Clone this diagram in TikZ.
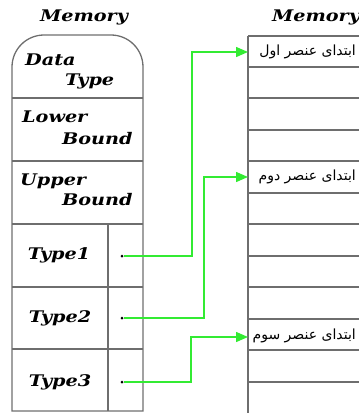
\documentclass[tikz,border=0pt]{standalone}
\usepackage{fontspec}
\usetikzlibrary{arrows.meta}
\newfontfamily\enfont[FakeStretch=1.2]{DejaVu Serif}
\newfontfamily\arabicfont[Script=Arabic]{DejaVu Sans}
\TeXXeTstate=1
\definecolor{linegray}{RGB}{110,110,110}
\definecolor{arrowgreen}{RGB}{50,235,50}
\begin{document}
\begin{tikzpicture}[x=1pt,y=-1pt,
  cell/.style={draw=linegray,line width=1.3pt},
  lbl/.style={font=\enfont\bfseries\itshape\fontsize{16}{16}\selectfont,inner sep=0pt},
  fa/.style={font=\arabicfont\fontsize{14}{14}\selectfont,inner sep=0pt},
  conn/.style={draw=arrowgreen,line width=1.4pt,-{Triangle[length=12pt,width=10pt]}},
  dot/.style={circle,fill=black,inner sep=0pt,minimum size=3pt}]
\useasboundingbox (0,0) rectangle (359,413);
% left block
\draw[cell] (12,411) -- (12,67) arc[start angle=180,end angle=270,radius=32] -- (111,35) arc[start angle=270,end angle=360,radius=32] -- (143,411) -- cycle;
\foreach \y in {98,161,224,287,349} \draw[cell] (12,\y) -- (143,\y);
\draw[cell] (108,224) -- (108,411);
\node[lbl] (mem1) at (84,17) {Memory};
\node[lbl,anchor=base west] (dt1) at (25,65) {Data};
\node[lbl,anchor=base west] (dt2) at (65,85) {Type};
\node[lbl,anchor=base west] (lb1) at (22,122) {Lower};
\node[lbl,anchor=base west] (lb2) at (62,144) {Bound};
\node[lbl,anchor=base west] (ub1) at (20,185) {Upper};
\node[lbl,anchor=base west] (ub2) at (62,205) {Bound};
\node[lbl] (ty1) at (59,255) {Type1};
\node[lbl] (ty2) at (60,318) {Type2};
\node[lbl] (ty3) at (60,382) {Type3};
\node[dot] (d1) at (122,256) {};
\node[dot] (d2) at (122,318) {};
\node[dot] (d3) at (122,382) {};
% right block
\begin{scope}
\clip (0,0) rectangle (359,413);
\draw[cell] (248,413) -- (248,36);
\foreach \y in {36,67,98,130,161,193,224,256,287,319,350,382} \draw[cell] (248,\y) -- (370,\y);
\end{scope}
\node[lbl] (mem2) at (316,17) {Memory};
\node[fa,anchor=east] (e1) at (356,52) {\beginR ابتدای عنصر اول\endR};
\node[fa,anchor=east] (e2) at (356,177) {\beginR ابتدای عنصر دوم\endR};
\node[fa,anchor=east] (e3) at (356,336) {\beginR ابتدای عنصر سوم\endR};
\coordinate (t1) at (248,52);
\coordinate (t2) at (248,177);
\coordinate (t3) at (248,337);
\draw[conn] (d1) -- ++(70,0) |- (t1);
\draw[conn] (d2) -- ++(82,0) |- (t2);
\draw[conn] (d3) -- ++(69,0) |- (t3);
\end{tikzpicture}
\end{document}
